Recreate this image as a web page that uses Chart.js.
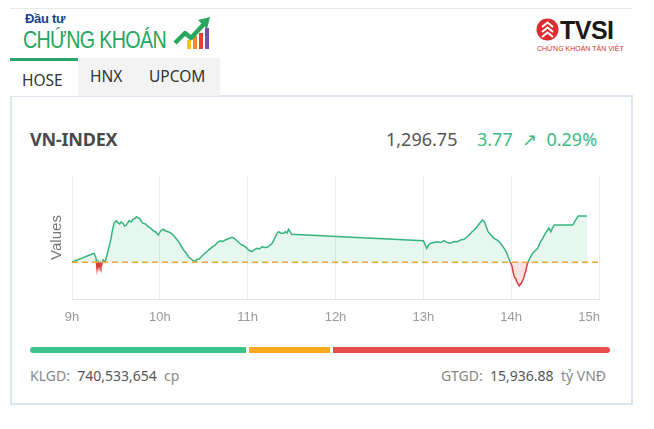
<!DOCTYPE html>
<html><head><meta charset="utf-8">
<script src="https://cdn.jsdelivr.net/npm/chart.js@4.4.1/dist/chart.umd.min.js"></script>
<style>
html,body{margin:0;padding:0;background:#fff;}
body{width:654px;height:429px;position:relative;overflow:hidden;font-family:"Noto Sans","Open Sans",sans-serif;}
.abs{position:absolute;}
#topline{left:10px;top:8px;width:622px;height:1px;background:#e8e8e8;}
#dautu{left:25px;top:11px;font:bold 13px "Liberation Sans",Arial,sans-serif;color:#1d3f8f;letter-spacing:-0.3px;}
#ck{left:23px;top:26px;font:24px "Liberation Sans",Arial,sans-serif;color:#25a55f;letter-spacing:-0.8px;white-space:nowrap;transform:scaleX(0.82);transform-origin:0 0;}
#tvsiText{left:560px;top:16px;font:bold 25px "Liberation Sans",Arial,sans-serif;color:#1a1a1a;letter-spacing:-0.5px;}
#tvsiSub{left:537px;top:45px;font:7px "Liberation Sans",Arial,sans-serif;color:#d8332f;white-space:nowrap;}
#tabs{left:10px;top:58px;height:38px;width:210px;}
.tab{position:absolute;top:0;height:38px;font:15.5px "Noto Sans",sans-serif;color:#333;box-sizing:border-box;}
#card{left:10px;top:95px;width:623px;height:310px;border:2px solid #dde6ef;box-sizing:border-box;background:#fff;}
#title{left:30px;top:127px;font:bold 18px "Noto Sans",sans-serif;color:#4a4a4a;letter-spacing:-0.2px;}
#price{left:386px;top:127px;font:18px "Noto Sans",sans-serif;color:#555;}
#chg{left:477px;top:127px;font:18px "Noto Sans",sans-serif;color:#3dbb87;white-space:nowrap;}
#chartBox{left:40px;top:170px;width:570px;height:159px;}
#bar{left:30px;top:347px;width:580px;height:6px;display:flex;gap:3px;}
#bar div{height:6px;}
#klgd{left:30px;top:366px;font:14px "Noto Sans",sans-serif;color:#888;white-space:nowrap;}
#gtgd{right:48px;top:366px;font:14px "Noto Sans",sans-serif;color:#888;white-space:nowrap;}
.num{color:#555;}
</style></head>
<body>
<div class="abs" id="topline"></div>
<div class="abs" id="dautu">Đầu tư</div>
<div class="abs" id="ck">CHỨNG KHOÁN</div>
<svg class="abs" style="left:173px;top:16px" width="40" height="34" viewBox="0 0 40 34">
  <rect x="14" y="24" width="4" height="9" fill="#f4c21b"/>
  <rect x="20" y="20" width="4" height="13" fill="#f08a24"/>
  <rect x="26" y="17" width="4" height="16" fill="#e4403c"/>
  <rect x="32" y="12" width="4" height="21" fill="#7a4bb0"/>
  <polyline points="2,27 12,17 18,22 31,8" fill="none" stroke="#2aa75c" stroke-width="4.5" stroke-linejoin="round"/>
  <polygon points="25,4 37,1 34,13" fill="#2aa75c"/>
</svg>
<svg class="abs" style="left:536px;top:18px" width="23" height="23" viewBox="0 0 23 23">
  <circle cx="11.5" cy="11.5" r="11" fill="#dd2c2f"/>
  <path d="M6 9 L11.5 4.5 L17 9 M6 14 L11.5 9.5 L17 14 M6 19 L11.5 14.5 L17 19" stroke="#fff" stroke-width="2" fill="none"/>
</svg>
<div class="abs" id="tvsiText">TVSI</div>
<div class="abs" id="tvsiSub">CHỨNG KHOÁN TÂN VIỆT</div>
<div class="abs" id="card"></div>
<div class="abs" id="tabs">
  <div class="tab" style="left:0;width:68px;background:#fff;border-top:3px solid #2aa66a;padding:8px 0 0 12px;">HOSE</div>
  <div class="tab" style="left:68px;width:142px;background:#f3f3f3;height:38px;"></div>
  <div class="tab" style="left:80px;padding-top:7px;">HNX</div>
  <div class="tab" style="left:139px;padding-top:7px;">UPCOM</div>
</div>
<div class="abs" id="title">VN-INDEX</div>
<div class="abs" id="price">1,296.75</div>
<div class="abs" id="chg">3.77&nbsp; ↗ &nbsp;0.29%</div>
<div class="abs" id="chartBox"><canvas id="c"></canvas></div>
<div class="abs" id="bar"></div>
<div class="abs" id="klgd">KLGD:&nbsp; <span class="num">740,533,654</span>&nbsp; cp</div>
<div class="abs" id="gtgd">GTGD:&nbsp; <span class="num">15,936.88</span>&nbsp; tỷ VNĐ</div>
<script>
// ---- data (minutes after 09:00, index value) ----
const minutesFrom9h = [0,15.1,16.4,17.1,17.8,18.5,19.2,19.8,21.2,22.6,24.2,26.5,27.4,28.7,30.3,31.5,32.6,33.5,34.9,35.9,37.2,39.0,40.4,41.7,43.1,44.0,45.2,46.3,47.2,48.6,50.3,52.0,53.7,55.4,57.2,58.9,60.6,62.3,64.0,65.7,67.4,69.1,70.8,72.8,74.6,76.2,78.0,79.6,81.4,83.0,84.2,85.3,86.9,88.8,91.0,93.3,95.5,97.9,99.6,101.3,103.0,104.7,107.1,109.3,110.9,112.7,114.3,116.1,117.7,119.6,121.1,123.0,124.6,126.4,128.0,129.8,131.4,133.3,134.8,136.7,137.9,138.9,140.1,141.2,142.7,144.6,145.8,146.8,148.0,150.0,240.0,242.3,243.6,245.0,247.1,249.6,251.9,254.1,256.3,258.7,260.8,263.3,265.5,267.8,269.7,271.2,273.1,274.7,276.5,278.1,279.2,280.4,281.3,282.0,283.0,284.2,286.1,288.3,290.2,291.8,293.6,295.2,296.7,297.9,299.3,300.5,302.0,303.2,304.2,305.5,307.0,308.5,309.9,311.2,312.8,314.6,316.2,318.1,319.6,321.5,323.1,324.9,325.8,327.1,328.2,329.4,342.0,345.8,351.8];
const indexValues = [1293.00,1293.72,1293.33,1292.44,1293.00,1292.52,1292.93,1292.60,1293.17,1293.00,1293.72,1294.80,1295.45,1296.15,1296.37,1296.18,1296.10,1296.26,1296.15,1295.93,1296.02,1296.37,1296.26,1296.48,1296.55,1296.69,1296.59,1296.56,1296.34,1296.15,1296.10,1295.88,1295.77,1295.55,1295.45,1295.20,1295.53,1295.67,1295.53,1295.47,1295.37,1295.20,1294.96,1294.66,1294.31,1293.98,1293.74,1293.44,1293.25,1293.11,1293.05,1293.23,1293.25,1293.50,1293.74,1293.98,1294.19,1294.39,1294.63,1294.74,1294.67,1294.80,1294.92,1295.02,1294.92,1294.74,1294.55,1294.39,1294.31,1294.12,1293.94,1293.85,1294.02,1294.12,1294.07,1294.25,1294.19,1294.20,1294.31,1294.53,1294.80,1295.07,1295.33,1295.47,1295.34,1295.34,1295.47,1295.37,1295.67,1295.26,1294.74,1294.12,1294.39,1294.53,1294.59,1294.66,1294.59,1294.74,1294.59,1294.53,1294.67,1294.66,1294.80,1294.85,1295.04,1295.20,1295.45,1295.61,1295.85,1296.10,1296.26,1296.42,1296.34,1296.20,1295.85,1295.47,1295.20,1294.93,1294.80,1294.66,1294.39,1294.12,1293.82,1293.44,1293.03,1292.68,1291.81,1291.63,1291.30,1291.06,1291.30,1291.68,1292.28,1292.90,1293.33,1293.72,1293.90,1294.12,1294.55,1294.93,1295.28,1295.61,1295.77,1295.47,1295.77,1296.02,1296.02,1296.75,1296.75];
const referenceValue = 1292.98;
const xTickLabels = ['9h','10h','11h','12h','13h','14h','15h'];
const breadthShares = [216, 81, 277]; // up / unchanged / down proportions
const breadthColors = ['#3cc48b','#f7a81b','#e84d4b'];

// breadth bar
const barEl = document.getElementById('bar');
breadthShares.forEach((v,i)=>{const d=document.createElement('div');d.style.flex=v+' 1 0';d.style.background=breadthColors[i];
  d.style.borderRadius = i===0?'3px 0 0 3px':(i===breadthShares.length-1?'0 3px 3px 0':'0');barEl.appendChild(d);});

const GREEN='#35b57d', RED='#d8403c';
function splitColor(ctx, above, below){
  const chart=ctx.chart; const ca=chart.chartArea;
  if(!ca) return above;
  const y=chart.scales.y.getPixelForValue(referenceValue);
  const f=Math.min(1,Math.max(0,(y-ca.top)/(ca.bottom-ca.top)));
  const g=chart.ctx.createLinearGradient(0,ca.top,0,ca.bottom);
  g.addColorStop(0,above);g.addColorStop(f,above);g.addColorStop(f,below);g.addColorStop(1,below);
  return g;
}
const lastLabel={id:'lastLabel',afterDraw(chart){
  const x=chart.scales.x; const c=chart.ctx;
  c.save();c.font='13px "Liberation Sans", Arial, sans-serif';c.fillStyle='#9a9a9a';
  c.textAlign='right';c.textBaseline='middle';
  c.fillText(xTickLabels[xTickLabels.length-1], x.getPixelForValue(360)+1, chart.chartArea.bottom+18);
  c.restore();}};

new Chart(document.getElementById('c'),{
  type:'line',
  data:{datasets:[
    {data:minutesFrom9h.map((m,i)=>({x:m,y:indexValues[i]})),
     borderWidth:1.5,pointRadius:0,tension:0,
     borderColor:ctx=>splitColor(ctx,GREEN,RED),
     fill:{target:{value:referenceValue},above:'rgba(60,196,139,0.13)',below:'rgba(232,77,75,0.16)'},order:1},
    {data:[{x:0,y:referenceValue},{x:360,y:referenceValue}],borderColor:'#f0a830',borderWidth:1.5,
     borderDash:[6,4],pointRadius:0,fill:false,order:0}
  ]},
  options:{
    responsive:true,maintainAspectRatio:false,animation:false,
    layout:{padding:{top:6,right:2,left:0,bottom:0}},
    plugins:{legend:{display:false},tooltip:{enabled:false}},
    scales:{
      x:{type:'linear',min:0,max:360,
        ticks:{stepSize:60,autoSkip:false,maxRotation:0,padding:11,color:'#9a9a9a',
          font:{family:'"Liberation Sans", Arial, sans-serif',size:13},
          callback:(v)=>{const i=Math.round(v/60);return i===xTickLabels.length-1?'':xTickLabels[i];}},
        grid:{color:'rgba(0,0,0,0.08)',drawTicks:false},
        border:{color:'#e6e6e6'},
        afterFit:s=>{s.height=30;}},
      y:{min:1290,max:1300,
        ticks:{display:false},grid:{display:false},border:{display:false},
        title:{display:true,text:'Values',color:'#777',padding:{top:8,bottom:0},
          font:{family:'"Liberation Sans", Arial, sans-serif',size:15,weight:'normal'}},
        afterFit:s=>{s.width=32;}}
    }
  },
  plugins:[lastLabel]
});
</script>
</body></html>
